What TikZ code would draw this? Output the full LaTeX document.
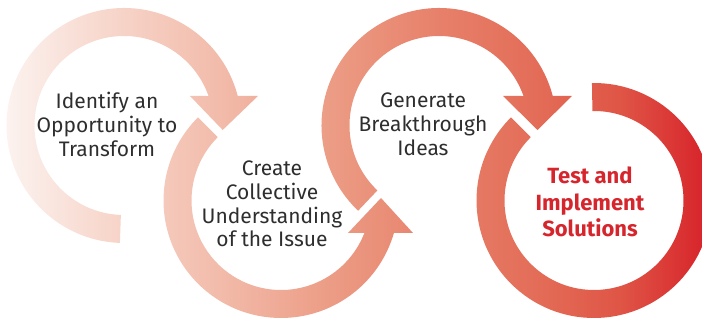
\documentclass[tikz,border=0pt]{standalone}
\usepackage{fontspec}
\setmainfont{Fira Sans}
\definecolor{txtgray}{HTML}{2E2E2E}
\definecolor{txtred}{HTML}{D6262D}
\definecolor{gA}{HTML}{FCF4F1}
\definecolor{gB}{HTML}{F7D6CB}
\definecolor{gC}{HTML}{F2BBAA}
\definecolor{gD}{HTML}{EC9C85}
\definecolor{gE}{HTML}{E7806A}
\definecolor{gF}{HTML}{E36C57}
\definecolor{gG}{HTML}{DF5546}
\definecolor{gH}{HTML}{D8262C}
\pgfdeclarehorizontalshading{ringshade}{100bp}{color(0bp)=(gA); color(25bp)=(gA); color(32.83bp)=(gB); color(40.67bp)=(gC); color(48.5bp)=(gD); color(56.34bp)=(gE); color(63.46bp)=(gF); color(69.16bp)=(gG); color(75bp)=(gH); color(100bp)=(gH)}
\begin{document}
\begin{tikzpicture}[x=1pt,y=1pt,
  lbl/.style={font=\fontsize{21}{23.8}\selectfont, text=txtgray, align=center, inner sep=0pt, anchor=north},
  lblbold/.style={font=\fontsize{22}{26.5}\selectfont\bfseries, text=txtred, align=center, inner sep=0pt, anchor=north}]
\useasboundingbox (0,0) rectangle (702,320);
\coordinate (c1) at (124,194.5);
\coordinate (c2) at (281,119.5);
\coordinate (c3) at (439,194.5);
\coordinate (c4) at (594,119.5);
\begin{scope}
\clip
  % ring 1
  ([shift={(c1)}]14.54:117.5pt) arc[start angle=14.54, end angle=268, radius=117.5pt]
  -- ([shift={(c1)}]268:89.5pt) arc[start angle=268, end angle=19.24, radius=89.5pt]
  -- (190,224) -- (222.7,190) -- (258,224) -- cycle
  % ring 2
  ([shift={(c2)}]135:117.5pt) arc[start angle=135, end angle=343.94, radius=117.5pt]
  -- (413,87) -- (381,122) -- (348,87)
  -- ([shift={(c2)}]338.71:89.5pt) arc[start angle=338.71, end angle=135, radius=89.5pt] -- cycle
  % ring 3
  ([shift={(c3)}]14.54:117.5pt) arc[start angle=14.54, end angle=226.5, radius=117.5pt]
  -- ([shift={(c3)}]226.5:89.5pt) arc[start angle=226.5, end angle=19.24, radius=89.5pt]
  -- (503,224) -- (537.5,190) -- (572,224) -- cycle
  % ring 4
  ([shift={(c4)}]135:117.5pt) arc[start angle=135, end angle=451, radius=117.5pt]
  -- ([shift={(c4)}]451:89.5pt) arc[start angle=451, end angle=135, radius=89.5pt] -- cycle;
\shade[shading=ringshade] (0,0) rectangle (702,320);
\end{scope}
\node[lbl] (t1) at (107,228) {Identify an\\Opportunity to\\Transform};
\node[lbl] (t2) at (272,159.5) {Create\\Collective\\Understanding\\of the Issue};
\node[lbl] (t3) at (423,227.5) {Generate\\Breakthrough\\Ideas};
\node[lblbold] (t4) at (590,153) {Test and\\Implement\\Solutions};
\end{tikzpicture}
\end{document}
